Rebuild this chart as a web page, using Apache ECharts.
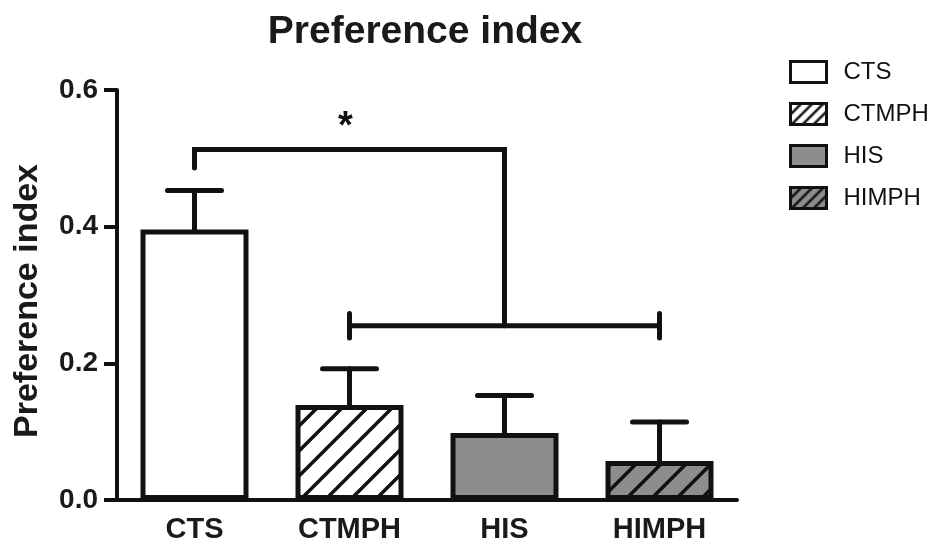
<!DOCTYPE html>
<html>
<head>
<meta charset="utf-8">
<script src="https://cdn.jsdelivr.net/npm/echarts@6/dist/echarts.min.js"></script>
<style>
  html, body { margin: 0; padding: 0; background: #fff; }
  #chart { width: 932px; height: 544px; }
</style>
</head>
<body>
<div id="chart"></div>
<script>
// Groups and their preference index (mean and SEM)
const categories = ['CTS', 'CTMPH', 'HIS', 'HIMPH'];
const means = [0.396, 0.139, 0.098, 0.057];
const sems = [0.057, 0.053, 0.055, 0.057];
const yTicks = [0.0, 0.2, 0.4, 0.6];

// Significance bracket: CTS vs. the other three groups
const bracketTopY = 0.513;     // upper horizontal line
const bracketLeftEnd = 0.486;  // lower end of the CTS leg
const bracketLowY = 0.255;     // lower horizontal line across CTMPH..HIMPH
const bracketCap = 0.018;      // half height of the end caps
const starY = 0.545;
const starText = '*';

const FONT = "'Liberation Sans', Arial, Helvetica, sans-serif";
const GRAY = '#8d8d8d';

function hatch(size, lineW, bg) {
  const c = document.createElement('canvas');
  c.width = size; c.height = size;
  const g = c.getContext('2d');
  g.fillStyle = bg; g.fillRect(0, 0, size, size);
  g.strokeStyle = '#111'; g.lineWidth = lineW; g.lineCap = 'square';
  g.beginPath();
  g.moveTo(-2, size + 2); g.lineTo(size + 2, -2);
  g.moveTo(-2, 2); g.lineTo(2, -2);
  g.moveTo(size - 2, size + 2); g.lineTo(size + 2, size - 2);
  g.stroke();
  return { image: c, repeat: 'repeat' };
}

const styles = {
  CTS: { color: '#ffffff', legend: '#ffffff' },
  CTMPH: { color: hatch(25, 3.5, '#ffffff'), legend: hatch(11, 2.5, '#ffffff') },
  HIS: { color: GRAY, legend: GRAY },
  HIMPH: { color: hatch(25, 3.5, GRAY), legend: hatch(11, 2.5, GRAY) }
};

const barSeries = categories.map((name, i) => ({
  name: name,
  type: 'bar',
  barWidth: 108,
  barGap: '-100%',
  data: categories.map((_, j) => (j === i ? means[i] : '-')),
  itemStyle: { color: styles[name].color, borderColor: '#111', borderWidth: 5 },
  emphasis: { disabled: true },
  z: 2
}));

const errorSeries = {
  type: 'custom',
  name: 'sem',
  data: means.map((m, i) => [i, m, m + sems[i]]),
  renderItem: function (params, api) {
    const base = api.coord([api.value(0), api.value(1)]);
    const top = api.coord([api.value(0), api.value(2)]);
    const half = 27;
    const st = { stroke: '#111', lineWidth: 5, lineCap: 'round' };
    return {
      type: 'group',
      children: [
        { type: 'line', shape: { x1: base[0], y1: base[1], x2: top[0], y2: top[1] }, style: st },
        { type: 'line', shape: { x1: top[0] - half, y1: top[1], x2: top[0] + half, y2: top[1] }, style: st }
      ]
    };
  },
  z: 3,
  silent: true
};

const bracketSeries = {
  type: 'custom',
  name: 'bracket',
  data: [[0]],
  renderItem: function (params, api) {
    const st = { stroke: '#111', lineWidth: 5, lineCap: 'round', lineJoin: 'miter', fill: null };
    const a = api.coord([0, bracketLeftEnd]);
    const b = api.coord([0, bracketTopY]);
    const c = api.coord([2, bracketTopY]);
    const d = api.coord([2, bracketLowY]);
    const l = api.coord([1, bracketLowY]);
    const r = api.coord([3, bracketLowY]);
    const capT = api.coord([1, bracketLowY + bracketCap])[1];
    const capB = api.coord([1, bracketLowY - bracketCap])[1];
    const star = api.coord([1, starY]);
    return {
      type: 'group',
      children: [
        { type: 'polyline', shape: { points: [a, b, c, d] }, style: st },
        { type: 'line', shape: { x1: l[0], y1: l[1], x2: r[0], y2: r[1] }, style: st },
        { type: 'line', shape: { x1: l[0], y1: capT, x2: l[0], y2: capB }, style: st },
        { type: 'line', shape: { x1: r[0], y1: capT, x2: r[0], y2: capB }, style: st },
        { type: 'text', x: star[0] - 4, y: star[1], style: { text: starText, font: 'bold 38px ' + FONT, fill: '#111', align: 'center', verticalAlign: 'middle' } }
      ]
    };
  },
  z: 4,
  silent: true
};

const chart = echarts.init(document.getElementById('chart'), null, { renderer: 'canvas' });
chart.setOption({
  animation: false,
  backgroundColor: '#ffffff',
  title: {
    text: 'Preference index',
    left: 425,
    textAlign: 'center',
    top: 13,
    padding: 0,
    textStyle: { fontFamily: FONT, fontWeight: 'bold', fontSize: 39, color: '#1a1a1a' }
  },
  legend: {
    orient: 'vertical',
    left: 789,
    top: 60,
    padding: 0,
    itemWidth: 36,
    itemHeight: 21,
    itemGap: 18,
    selectedMode: false,
    itemStyle: { borderColor: '#111', borderWidth: 3 },
    textStyle: { fontFamily: FONT, fontSize: 24, color: '#111', padding: [0, 0, 0, 12] },
    data: categories.map(name => ({ name: name, icon: 'rect', itemStyle: { color: styles[name].legend } }))
  },
  grid: { left: 117, right: 195, top: 90, bottom: 44, containLabel: false },
  xAxis: {
    type: 'category',
    data: categories,
    axisLine: { lineStyle: { color: '#111', width: 4 } },
    axisTick: { alignWithLabel: true, length: 12, lineStyle: { color: '#111', width: 4 } },
    axisLabel: { fontFamily: FONT, fontWeight: 'bold', fontSize: 29, color: '#1a1a1a', margin: 15 },
    splitLine: { show: false }
  },
  yAxis: {
    type: 'value',
    min: yTicks[0],
    max: yTicks[yTicks.length - 1],
    interval: 0.2,
    name: 'Preference index',
    nameLocation: 'middle',
    nameGap: 72,
    nameTextStyle: { fontFamily: FONT, fontWeight: 'bold', fontSize: 34, color: '#1a1a1a', padding: [0, 12, 0, 0] },
    axisLine: { show: true, lineStyle: { color: '#111', width: 4 } },
    axisTick: { show: true, length: 13, lineStyle: { color: '#111', width: 4 } },
    axisLabel: { fontFamily: FONT, fontWeight: 'bold', fontSize: 28, color: '#1a1a1a', margin: 19,
      formatter: v => v.toFixed(1) },
    splitLine: { show: false }
  },
  series: barSeries.concat([errorSeries, bracketSeries])
});
</script>
</body>
</html>
